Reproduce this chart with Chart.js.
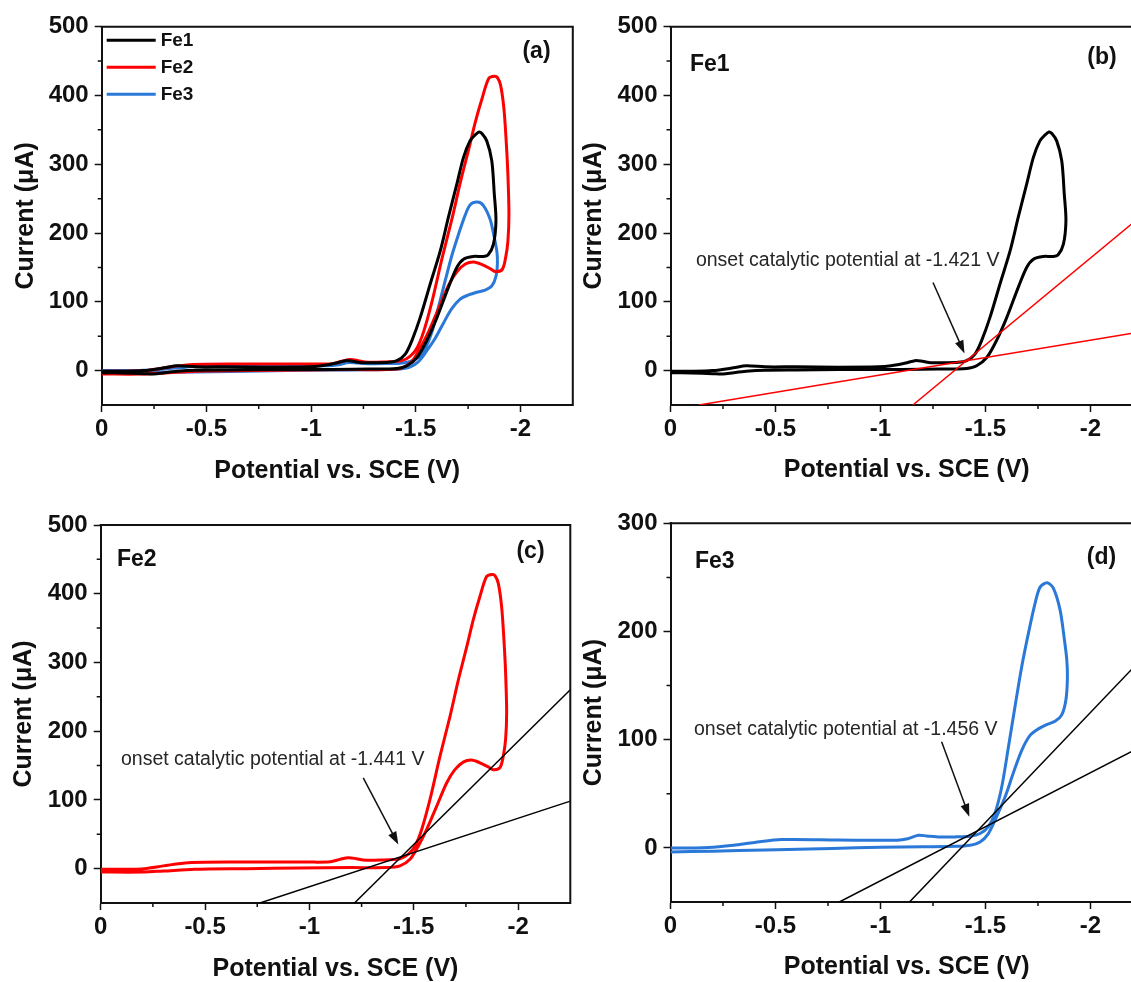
<!DOCTYPE html>
<html>
<head>
<meta charset="utf-8">
<script src="https://cdn.jsdelivr.net/npm/chart.js@4.4.1/dist/chart.umd.min.js"></script>
<style>
  html, body { margin: 0; padding: 0; background: #fff; overflow: hidden; width: 1131px; height: 982px; position: relative; }
  canvas { position: absolute; }
</style>
</head>
<body>
<canvas id="chartA" width="580" height="490" style="left:0;top:0"></canvas>
<canvas id="chartB" width="590" height="490" style="left:565px;top:0"></canvas>
<canvas id="chartC" width="580" height="492" style="left:0;top:490px"></canvas>
<canvas id="chartD" width="590" height="492" style="left:565px;top:490px"></canvas>
<script>
// ---- data (potential in V vs. SCE, current in uA) ----
const xTicks = [0, -0.5, -1, -1.5, -2];
const xMinorTicks = [-0.25, -0.75, -1.25, -1.75];
const yTicks500 = [0, 100, 200, 300, 400, 500];
const yMinor500 = [50, 150, 250, 350, 450];
const yTicks300 = [0, 100, 200, 300];
const yMinor300 = [50, 150, 250];

const seriesNames = ['Fe1', 'Fe2', 'Fe3'];

// Fe1: forward scan (lower branch) then return scan (upper branch)
const fe1Potential = [0, -0.1, -0.2, -0.25, -0.3, -0.36, -0.45, -0.6, -0.8, -1.0, -1.2, -1.35, -1.41, -1.458, -1.506, -1.553, -1.601, -1.656, -1.696, -1.728, -1.775, -1.82, -1.845, -1.871, -1.883,
  -1.875, -1.863, -1.839, -1.815, -1.802, -1.785, -1.759, -1.728, -1.696, -1.656, -1.617, -1.569, -1.521, -1.482, -1.45, -1.41, -1.37, -1.3, -1.24, -1.2, -1.164, -1.12, -1.05, -0.99, -0.8, -0.6, -0.45, -0.36, -0.3, -0.2, -0.1, 0];
const fe1Current = [-3, -3.5, -4.5, -5, -3, -1, 0.5, 1, 1.5, 1.5, 2, 2.5, 3, 7, 19, 44, 77, 121, 150, 162, 166, 166, 168, 184, 218,
  257, 305, 334, 345, 347, 343, 334, 310, 271, 223, 174, 126, 77, 44, 24, 14.5, 12, 11.5, 11.5, 13.5, 14.5, 11, 7, 5.5, 5, 5.5, 5.5, 7, 4, 0, -1, -1];

// Fe2
const fe2Potential = [0, -0.2, -0.3, -0.45, -0.7, -0.95, -1.2, -1.37, -1.434, -1.482, -1.522, -1.562, -1.61, -1.658, -1.697, -1.737, -1.777, -1.817, -1.857, -1.881, -1.913, -1.929, -1.94, -1.945,
  -1.94, -1.932, -1.921, -1.905, -1.89, -1.876, -1.849, -1.817, -1.785, -1.754, -1.714, -1.674, -1.626, -1.578, -1.538, -1.506, -1.474, -1.434, -1.338, -1.258, -1.225, -1.186, -1.147, -1.1, -1.0, -0.7, -0.42, -0.3, -0.21, -0.1, 0];
const fe2Current = [-5, -5, -3.5, -1, 0, 1, 1.5, 1.5, 4, 13.5, 33, 57, 91, 125, 144, 155, 158, 154, 148, 144, 147, 164, 188, 227,
  285, 333, 381, 415, 426, 428, 425, 396, 362, 323, 275, 222, 164, 101, 57, 33, 21, 14.5, 12.5, 12.5, 14.5, 16, 13.5, 10, 9.5, 9.5, 8.7, 4, 0, -1, -1];

// Fe3
const fe3Potential = [0, -0.2, -0.45, -0.77, -1.0, -1.2, -1.363, -1.426, -1.474, -1.513, -1.553, -1.593, -1.632, -1.672, -1.712, -1.752, -1.791, -1.831, -1.863, -1.883, -1.89,
  -1.887, -1.874, -1.855, -1.823, -1.794, -1.76, -1.736, -1.704, -1.672, -1.64, -1.609, -1.577, -1.545, -1.513, -1.474, -1.426, -1.363, -1.283, -1.22, -1.18, -1.13, -1.08, -0.8, -0.53, -0.4, -0.3, -0.18, -0.1, 0];
const fe3Current = [-3.7, -3, -2, -0.5, 0.5, 1, 1.5, 2.5, 5.5, 13, 29, 47, 69, 90, 104, 110, 114, 117, 123, 137, 157,
  174, 195, 220, 240, 245, 241, 226, 198, 167, 130, 93, 56, 32, 19.5, 13.3, 10.8, 10.2, 10, 11, 11.7, 8.5, 7.1, 7.3, 7.7, 5, 2.5, 0.3, 0, 0];

// tangent lines used to find the onset potential
const fe1FitLowPotential = [-0.135, -2.25];
const fe1FitLowCurrent = [-50, 57];
const fe1FitSteepPotential = [-1.154, -2.25];
const fe1FitSteepCurrent = [-50, 227];
const fe2FitLowPotential = [-0.763, -2.25];
const fe2FitLowCurrent = [-50, 98.2];
const fe2FitSteepPotential = [-1.216, -2.25];
const fe2FitSteepCurrent = [-50, 260.4];
const fe3FitLowPotential = [-0.804, -2.25];
const fe3FitLowCurrent = [-50, 94.5];
const fe3FitSteepPotential = [-1.138, -2.25];
const fe3FitSteepCurrent = [-50, 176];

const onsetLabels = ['onset catalytic potential at -1.421 V', 'onset catalytic potential at -1.441 V', 'onset catalytic potential at -1.456 V'];

// ---- styling ----
const fontFamily = "'Liberation Sans', Arial, Helvetica, sans-serif";
const ink = '#111';
const colors = { fe1: '#000000', fe2: '#ff0000', fe3: '#2a78d8' };

const curves = [
  { name: seriesNames[0], potential: fe1Potential, current: fe1Current, color: colors.fe1 },
  { name: seriesNames[1], potential: fe2Potential, current: fe2Current, color: colors.fe2 },
  { name: seriesNames[2], potential: fe3Potential, current: fe3Current, color: colors.fe3 }
];

function toPoints(xs, ys) {
  return xs.map((v, i) => ({ x: v, y: ys[i] }));
}

/**
 * Frame, minor ticks, legend, panel tags and onset annotation
 */
const decorPlugin = {
  id: 'decor',
  afterDraw(chart, args, opts) {
    const ctx = chart.ctx;
    const { left, right, top, bottom } = chart.chartArea;
    const xs = chart.scales.x;
    const ys = chart.scales.y;
    ctx.save();

    // top and right frame
    ctx.strokeStyle = ink;
    ctx.lineWidth = 2;
    ctx.beginPath();
    ctx.moveTo(left - 1, top);
    ctx.lineTo(right, top);
    ctx.lineTo(right, bottom + 1);
    ctx.stroke();

    // minor ticks
    ctx.lineWidth = 1.5;
    ctx.beginPath();
    xMinorTicks.forEach(v => {
      const px = xs.getPixelForValue(v);
      ctx.moveTo(px, bottom);
      ctx.lineTo(px, bottom + 4);
    });
    opts.yMinor.forEach(v => {
      const py = ys.getPixelForValue(v);
      ctx.moveTo(left, py);
      ctx.lineTo(left - 4, py);
    });
    ctx.stroke();

    // legend (panel a)
    if (opts.legend) {
      ctx.font = 'bold 19px ' + fontFamily;
      ctx.textBaseline = 'middle';
      ctx.textAlign = 'left';
      curves.forEach((c, i) => {
        const ly = top + 13.5 + i * 27;
        ctx.strokeStyle = c.color;
        ctx.lineWidth = 3;
        ctx.beginPath();
        ctx.moveTo(left + 5, ly);
        ctx.lineTo(left + 54, ly);
        ctx.stroke();
        ctx.fillStyle = ink;
        ctx.fillText(c.name, left + 59, ly + 1);
      });
    }

    // panel tag and sample name
    ctx.fillStyle = ink;
    ctx.font = 'bold 23px ' + fontFamily;
    ctx.textBaseline = 'middle';
    ctx.textAlign = 'center';
    ctx.fillText(opts.tag, opts.tagX, opts.tagY);
    if (opts.name) {
      ctx.textAlign = 'left';
      ctx.fillText(opts.name, opts.nameX, opts.nameY);
    }

    // onset annotation: text + arrow
    if (opts.note) {
      const n = opts.note;
      ctx.font = '19.5px ' + fontFamily;
      ctx.fillStyle = '#262626';
      ctx.textAlign = 'left';
      ctx.textBaseline = 'middle';
      ctx.fillText(n.text, xs.getPixelForValue(n.textX), ys.getPixelForValue(n.textY));

      const x1 = xs.getPixelForValue(n.from[0]), y1 = ys.getPixelForValue(n.from[1]);
      const x2 = xs.getPixelForValue(n.to[0]), y2 = ys.getPixelForValue(n.to[1]);
      const ang = Math.atan2(y2 - y1, x2 - x1);
      const headLen = 13, headHalf = 4.5;
      ctx.strokeStyle = '#111';
      ctx.lineWidth = 1.5;
      ctx.beginPath();
      ctx.moveTo(x1, y1);
      ctx.lineTo(x2 - Math.cos(ang) * headLen * 0.8, y2 - Math.sin(ang) * headLen * 0.8);
      ctx.stroke();
      ctx.fillStyle = '#111';
      ctx.beginPath();
      ctx.moveTo(x2, y2);
      ctx.lineTo(x2 - Math.cos(ang) * headLen - Math.sin(ang) * headHalf, y2 - Math.sin(ang) * headLen + Math.cos(ang) * headHalf);
      ctx.lineTo(x2 - Math.cos(ang) * headLen + Math.sin(ang) * headHalf, y2 - Math.sin(ang) * headLen - Math.cos(ang) * headHalf);
      ctx.closePath();
      ctx.fill();
    }
    ctx.restore();
  }
};

const panels = [
  {
    id: 'chartA', curves: curves, fits: [], fitColor: '#000',
    yMax: 500, yTicks: yTicks500, yMinor: yMinor500,
    padTop: 26.7, padRight: 7.2, yWidth: 101.7, xHeight: 85, xTitlePad: 6.5, yTitlePad: 13.5,
    decor: { legend: true, tag: '(a)', tagX: 536.5, tagY: 52, yMinor: yMinor500 }
  },
  {
    id: 'chartB', curves: [curves[0]], fitColor: '#ff0000',
    fits: [[fe1FitLowPotential, fe1FitLowCurrent], [fe1FitSteepPotential, fe1FitSteepCurrent]],
    yMax: 500, yTicks: yTicks500, yMinor: yMinor500,
    padTop: 26.7, padRight: 12, yWidth: 105.5, xHeight: 85, xTitlePad: 7.5, yTitlePad: 16.5,
    decor: { tag: '(b)', tagX: 537, tagY: 58, name: 'Fe1', nameX: 125, nameY: 65, yMinor: yMinor500,
      note: { text: onsetLabels[0], textX: -0.121, textY: 160, from: [-1.25, 128], to: [-1.40, 25] } }
  },
  {
    id: 'chartC', curves: [curves[1]], fitColor: '#000',
    fits: [[fe2FitLowPotential, fe2FitLowCurrent], [fe2FitSteepPotential, fe2FitSteepCurrent]],
    yMax: 500, yTicks: yTicks500, yMinor: yMinor500,
    padTop: 35, padRight: 9.7, yWidth: 100.7, xHeight: 79, xTitlePad: 0, yTitlePad: 12,
    decor: { tag: '(c)', tagX: 530.5, tagY: 62, name: 'Fe2', nameX: 117, nameY: 70, yMinor: yMinor500,
      note: { text: onsetLabels[1], textX: -0.097, textY: 159, from: [-1.258, 132], to: [-1.426, 35] } }
  },
  {
    id: 'chartD', curves: [curves[2]], fitColor: '#000',
    fits: [[fe3FitLowPotential, fe3FitLowCurrent], [fe3FitSteepPotential, fe3FitSteepCurrent]],
    yMax: 300, yTicks: yTicks300, yMinor: yMinor300,
    padTop: 33.3, padRight: 12, yWidth: 105.5, xHeight: 80, xTitlePad: 2.8, yTitlePad: 16.5,
    decor: { tag: '(d)', tagX: 536.5, tagY: 68, name: 'Fe3', nameX: 130, nameY: 72, yMinor: yMinor300,
      note: { text: onsetLabels[2], textX: -0.112, textY: 109, from: [-1.291, 98], to: [-1.423, 28.7] } }
  }
];

function buildPanel(p) {
  const datasets = p.fits.map(f => ({
    data: toPoints(f[0], f[1]),
    showLine: true,
    borderColor: p.fitColor,
    borderWidth: 1.5,
    pointRadius: 0,
    tension: 0
  }));
  p.curves.forEach(c => datasets.push({
    label: c.name,
    data: toPoints(c.potential, c.current),
    showLine: true,
    borderColor: c.color,
    borderWidth: 3,
    pointRadius: 0,
    tension: 0.3
  }));

  const tickFont = { family: fontFamily, size: 24, weight: 'bold' };
  const titleFont = { family: fontFamily, size: 25, weight: 'bold', lineHeight: 1 };
  const gridOpts = { display: true, drawOnChartArea: false, drawTicks: true, tickLength: 7, tickWidth: 1.5, tickColor: ink };
  const borderOpts = { display: true, color: ink, width: 2 };

  new Chart(document.getElementById(p.id), {
    type: 'scatter',
    data: { datasets: datasets },
    options: {
      responsive: false,
      animation: false,
      events: [],
      layout: { padding: { top: p.padTop, right: p.padRight, left: 0, bottom: 0 } },
      plugins: {
        legend: { display: false },
        tooltip: { enabled: false },
        decor: p.decor
      },
      scales: {
        x: {
          type: 'linear',
          reverse: true,
          min: -2.25,
          max: 0,
          afterBuildTicks: s => { s.ticks = xTicks.map(v => ({ value: v })); },
          afterFit: s => { s.height = p.xHeight; },
          ticks: { font: tickFont, color: ink, padding: 3, maxRotation: 0, callback: v => String(v) },
          grid: gridOpts,
          border: borderOpts,
          title: { display: true, text: 'Potential vs. SCE (V)', font: titleFont, color: ink, padding: { top: 0, bottom: p.xTitlePad } }
        },
        y: {
          type: 'linear',
          min: -50,
          max: p.yMax,
          afterBuildTicks: s => { s.ticks = p.yTicks.map(v => ({ value: v })); },
          afterFit: s => { s.width = p.yWidth; },
          ticks: { font: tickFont, color: ink, padding: 6, callback: v => String(v) },
          grid: gridOpts,
          border: borderOpts,
          title: { display: true, text: 'Current (\u03bcA)', font: titleFont, color: ink, padding: { top: p.yTitlePad, bottom: 0 } }
        }
      }
    },
    plugins: [decorPlugin]
  });
}

panels.forEach(buildPanel);
</script>
</body>
</html>
